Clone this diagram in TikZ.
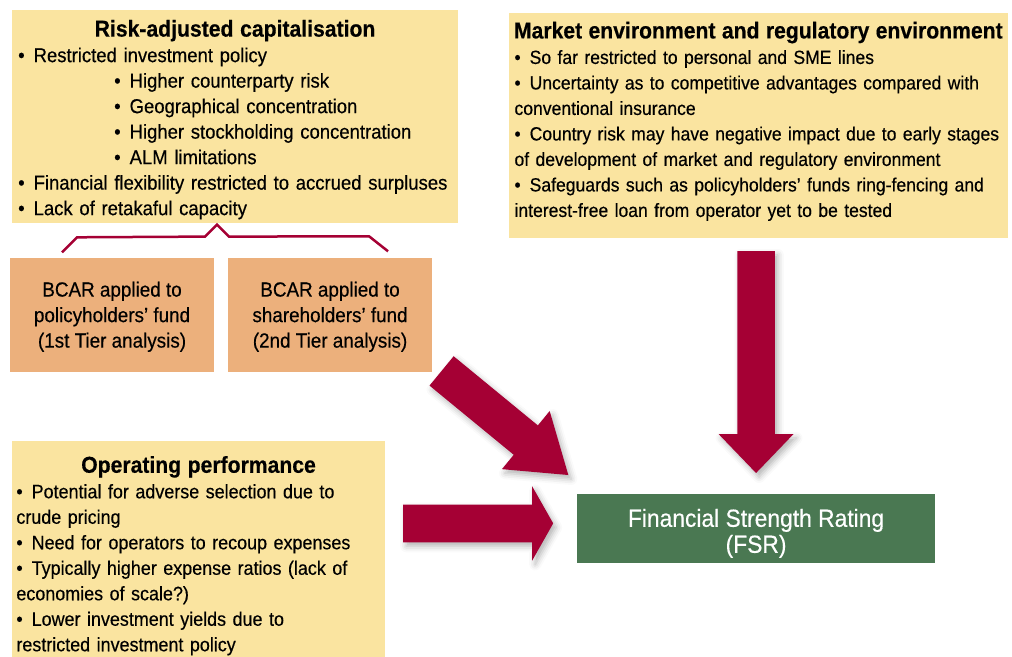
\documentclass[tikz,border=0pt]{standalone}
\usepackage{fontspec}
\setmainfont{Liberation Sans}[FakeStretch=0.92, FakeBold=0.4]
\usepackage{tikz}
\usetikzlibrary{calc}
\usetikzlibrary{shadows.blur}

\definecolor{paleyellow}{RGB}{250,228,160}
\definecolor{bcarorange}{RGB}{236,176,124}
\definecolor{arrowred}{RGB}{165,0,52}
\definecolor{fsrgreen}{RGB}{74,120,82}

\newcommand{\bodyfont}[1]{\fontsize{#1}{25.5}\selectfont}
\newcommand{\headfont}{\fontsize{23}{25.5}\selectfont\bfseries}
\newcommand{\boxhead}[1]{\makebox[\hsize]{\headfont #1}}
\newcommand{\itm}{\textbullet\hspace{9pt}}
\newcommand{\subitm}{\hspace*{96pt}\textbullet\hspace{9pt}}

\begin{document}
\begin{tikzpicture}[x=1pt, y=-1pt,
  notebox/.style={fill=paleyellow, anchor=north west, align=left, inner xsep=6pt, inner ysep=0pt},
  bcarbox/.style={fill=bcarorange, anchor=north west, align=center, minimum width=203.7pt, minimum height=114.4pt, inner sep=0pt, font=\bodyfont{20.5}},
  brace/.style={draw=arrowred, line width=2.5pt},
  bigarrow/.style={fill=arrowred, blur shadow={shadow xshift=3pt, shadow yshift=-4pt, shadow blur radius=6pt, shadow opacity=30}}]
\useasboundingbox (0,0) rectangle (1012,656);
\clip (0,0) rectangle (1012,656);
%%% Draws text boxes
% risk-adjusted capitalisation
\node[notebox, font=\bodyfont{20.1}, text width=433.7pt, minimum height=212.7pt] (risk) at (12,10) {
\rule{0pt}{22.8pt}\boxhead{Risk-adjusted capitalisation}\\
\itm Restricted investment policy\\
\subitm Higher counterparty risk\\
\subitm Geographical concentration\\
\subitm Higher stockholding concentration\\
\subitm ALM limitations\\
\itm Financial flexibility restricted to accrued surpluses\\
\itm Lack of retakaful capacity};
% market environment
\node[notebox, font=\bodyfont{19.1}, text width=487.7pt, minimum height=225.7pt] (mkt) at (508.3,12.3) {
\boxhead{Market environment and regulatory environment}\\
\itm So far restricted to personal and SME lines\\
\itm Uncertainty as to competitive advantages compared with\\
conventional insurance\\
\itm Country risk may have negative impact due to early stages\\
of development of market and regulatory environment\\
\itm Safeguards such as policyholders’ funds ring-fencing and\\
interest-free loan from operator yet to be tested\rule[-12pt]{0pt}{1pt}};
% operating performance
\node[notebox, font=\bodyfont{19.5}, inner xsep=4.5pt, text width=364.3pt, minimum height=229pt] (oper) at (11.7,441) {
\boxhead{Operating performance}\\
\itm Potential for adverse selection due to\\
crude pricing\\
\itm Need for operators to recoup expenses\\
\itm Typically higher expense ratios (lack of\\
economies of scale?)\\
\itm Lower investment yields due to\\
restricted investment policy};
% BCAR boxes
\node[bcarbox] (pol) at (10,257.3) {\rule{0pt}{19pt}BCAR applied to\\policyholders’ fund\\(1st Tier analysis)};
\node[bcarbox] (shr) at (228,257.3) {\rule{0pt}{19pt}BCAR applied to\\shareholders’ fund\\(2nd Tier analysis)};
% rating box
\node[fill=fsrgreen, text=white, anchor=north west, align=center, minimum width=358.3pt, minimum height=68.3pt, inner sep=0pt, font=\fontsize{24.8}{26}\selectfont] (fsr) at (576.7,494) {\rule{0pt}{28pt}Financial Strength Rating\\(FSR)};
%%% Draws brace under capitalisation box
\coordinate (bl) at ($(pol.north)+(-50,-5)$);
\coordinate (bt) at ($(risk.south west)+(205,1.5)$);
\coordinate (br) at ($(shr.north)+(58,-6)$);
\draw[brace] (bl) -- ++(15,-15) -- ($(bt)+(-12,12)$) -- (bt) -- ++(12,12) -- ($(br)+(-19,-15)$) -- (br);
%%% Draws arrows into rating box
\coordinate (dtip) at ($(fsr.north)+(0,-21)$);
\coordinate (rtip) at ($(fsr.west)+(-23.5,-5)$);
\coordinate (gtip) at ($(fsr.north west)+(-8.4,-19)$);
% from market environment
\fill[bigarrow] (dtip) -- ++(-37.5,-39) -- ++(18.7,0) -- ++(0,-183) -- ++(37.6,0) -- ++(0,183) -- ++(18.7,0) -- cycle;
% from operating performance
\fill[bigarrow] (rtip) -- ++(-21,-37) -- ++(0,18.3) -- ++(-129,0) -- ++(0,37.6) -- ++(129,0) -- ++(0,18.3) -- cycle;
% from capitalisation
\begin{scope}[shift={(gtip)}, rotate=-39.4]
\fill[bigarrow] (0,0) -- (-55,-37.6) -- (-55,-19) -- (-164,-19) -- (-164,19) -- (-55,19) -- (-55,37.6) -- cycle;
\end{scope}
\end{tikzpicture}
\end{document}
